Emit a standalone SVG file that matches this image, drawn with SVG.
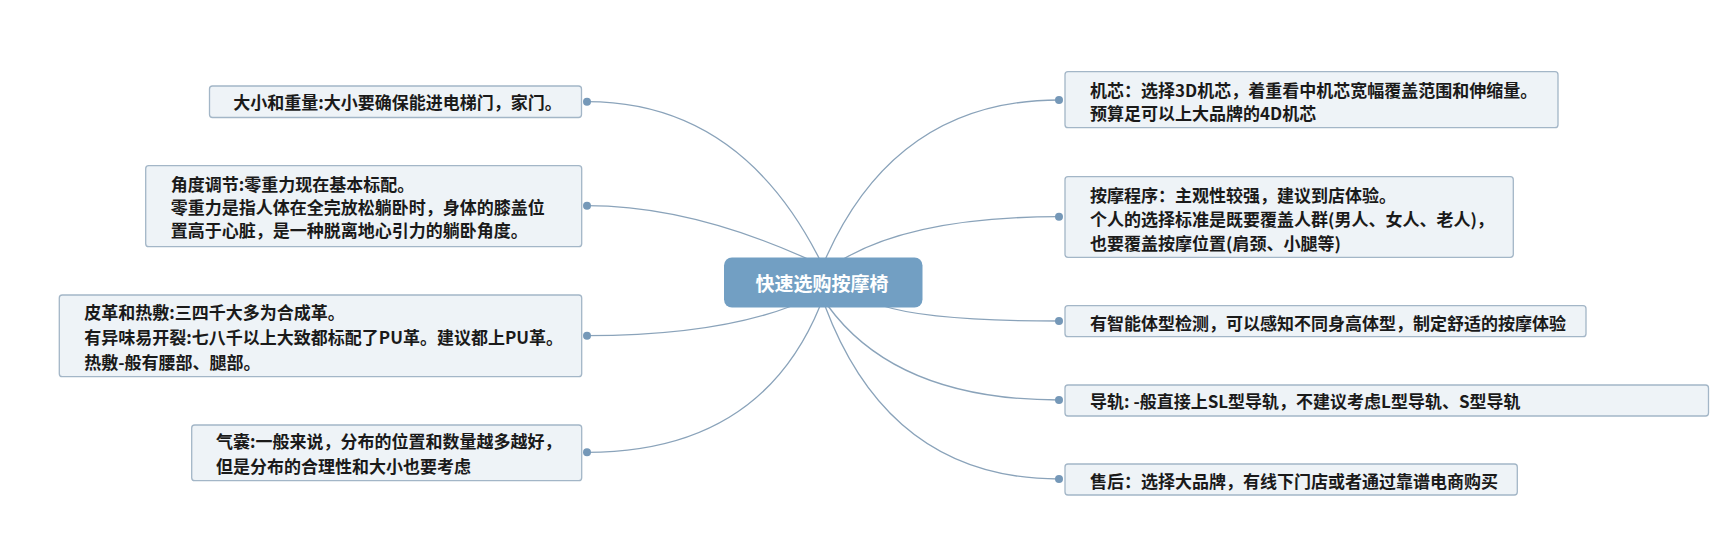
<svg xmlns="http://www.w3.org/2000/svg" width="1730" height="543" viewBox="0 0 1730 543">
<style>
.bg{fill:#ffffff}
.box{fill:#eef3f7;stroke:#a3b6c7;stroke-width:1.3}
.t{font-family:"Noto Sans CJK SC","Liberation Sans",sans-serif;font-size:17px;font-weight:bold;fill:#1a1a1a}
.ct{font-family:"Noto Sans CJK SC","Liberation Sans",sans-serif;font-size:19px;font-weight:bold;fill:#ffffff}
.ln{fill:none;stroke:#8aa3ba;stroke-width:1.3}
.dot{fill:#7598b8}
.center{fill:#729fc3}
</style>
<rect class="bg" x="0" y="0" width="1730" height="543"/>
<g id="connectors">
<path class="ln" d="M820,260 Q740,101.7 587,101.7"/>
<path class="ln" d="M810,260 Q690.5,205.7 587,205.7"/>
<path class="ln" d="M791.7,306 Q713.9,335.7 587,335.7"/>
<path class="ln" d="M820,306 Q760,452.3 587,452.3"/>
<path class="ln" d="M825,260 Q895.5,100 1059,100"/>
<path class="ln" d="M841.7,260 Q914,216.7 1059,216.7"/>
<path class="ln" d="M883.3,306 Q930,321 1059,321"/>
<path class="ln" d="M828,306 Q896.8,400 1059,400"/>
<path class="ln" d="M825,306 Q890,479 1059,479"/>
<circle class="dot" cx="587" cy="101.7" r="4"/>
<circle class="dot" cx="587" cy="205.7" r="4"/>
<circle class="dot" cx="587" cy="335.7" r="4"/>
<circle class="dot" cx="587" cy="452.3" r="4"/>
<circle class="dot" cx="1059" cy="100" r="4"/>
<circle class="dot" cx="1059" cy="216.7" r="4"/>
<circle class="dot" cx="1059" cy="321" r="4"/>
<circle class="dot" cx="1059" cy="400" r="4"/>
<circle class="dot" cx="1059" cy="479" r="4"/>
</g>
<g id="center">
<rect class="center" x="724" y="257.5" width="198.5" height="50" rx="8"/>
<text class="ct" x="822" y="290.5" text-anchor="middle">快速选购按摩椅</text>
</g>
<g id="n-size">
<rect class="box" x="209.5" y="86" width="372" height="31.5" rx="3"/>
<text class="t" x="233.3" y="109">大小和重量:大小要确保能进电梯门，家门。</text>
</g>
<g id="n-angle">
<rect class="box" x="145.7" y="165.7" width="436" height="81" rx="3"/>
<text class="t" x="170.7" y="190.5">角度调节:零重力现在基本标配。</text>
<text class="t" x="170.7" y="213.8">零重力是指人体在全完放松躺卧时，身体的膝盖位</text>
<text class="t" x="170.7" y="237.1">置高于心脏，是一种脱离地心引力的躺卧角度。</text>
</g>
<g id="n-leather">
<rect class="box" x="59.3" y="295" width="522.4" height="81.7" rx="3"/>
<text class="t" x="84.3" y="319">皮革和热敷:三四千大多为合成革。</text>
<text class="t" x="84.3" y="344">有异味易开裂:七八千以上大致都标配了PU革。建议都上PU革。</text>
<text class="t" x="84.3" y="369">热敷-般有腰部、腿部。</text>
</g>
<g id="n-airbag">
<rect class="box" x="191.7" y="425" width="390" height="55.7" rx="3"/>
<text class="t" x="216" y="448">气囊:一般来说，分布的位置和数量越多越好，</text>
<text class="t" x="216" y="473">但是分布的合理性和大小也要考虑</text>
</g>
<g id="n-core">
<rect class="box" x="1065" y="71.7" width="493" height="56" rx="3"/>
<text class="t" x="1090" y="96.5">机芯：选择3D机芯，着重看中机芯宽幅覆盖范围和伸缩量。</text>
<text class="t" x="1090" y="120">预算足可以上大品牌的4D机芯</text>
</g>
<g id="n-program">
<rect class="box" x="1065" y="176.7" width="448.3" height="80.6" rx="3"/>
<text class="t" x="1090" y="201.5">按摩程序：主观性较强，建议到店体验。</text>
<text class="t" x="1090" y="225.8">个人的选择标准是既要覆盖人群(男人、女人、老人)，</text>
<text class="t" x="1090" y="249.8">也要覆盖按摩位置(肩颈、小腿等)</text>
</g>
<g id="n-detect">
<rect class="box" x="1065" y="305.7" width="521" height="31" rx="3"/>
<text class="t" x="1090" y="329.5">有智能体型检测，可以感知不同身高体型，制定舒适的按摩体验</text>
</g>
<g id="n-rail">
<rect class="box" x="1065" y="385" width="643.5" height="31" rx="3"/>
<text class="t" x="1090" y="408">导轨: -般直接上SL型导轨，不建议考虑L型导轨、S型导轨</text>
</g>
<g id="n-service">
<rect class="box" x="1065" y="464" width="452.3" height="31" rx="3"/>
<text class="t" x="1090" y="487.5">售后：选择大品牌，有线下门店或者通过靠谱电商购买</text>
</g>
</svg>
